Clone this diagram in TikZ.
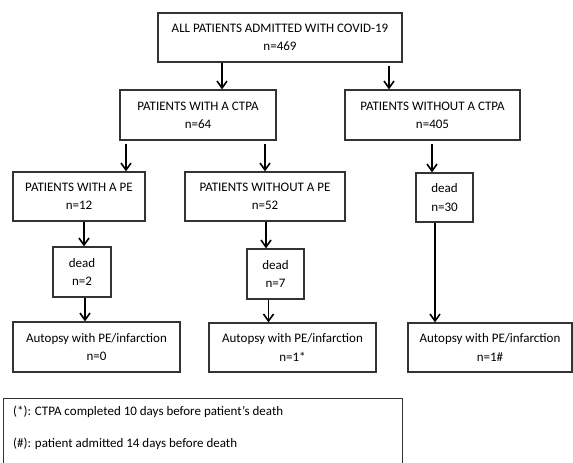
\documentclass[tikz,border=0pt]{standalone}
\usepackage{fontspec}
\setmainfont{Carlito}
\usetikzlibrary{arrows.meta}
\begin{document}
\begin{tikzpicture}[x=1pt,y=-1pt,
  box/.style={draw=black!80,line width=1.2pt,inner sep=0pt,align=center,
    font=\fontsize{13}{18.3}\selectfont},
  arr/.style={line width=1.9pt,-{Straight Barb[length=7pt,width=10pt,line width=1.6pt]}},
  plain/.style={line width=1.9pt},
  note/.style={inner sep=0pt,anchor=west,font=\fontsize{13}{16}\selectfont}]
\useasboundingbox (0,0) rectangle (573,463);
\node[box,minimum width=244pt,minimum height=49pt] (top) at (280,37.5) {ALL PATIENTS ADMITTED WITH COVID-19\\n=469};
\node[box,minimum width=156pt,minimum height=50pt] (ctpa) at (198,115) {PATIENTS WITH A CTPA\\n=64};
\node[box,minimum width=175pt,minimum height=50pt] (noctpa) at (432.5,115) {PATIENTS WITHOUT A CTPA\\n=405};
\node[box,minimum width=132pt,minimum height=49pt] (pe) at (79,196.5) {PATIENTS WITH A PE\\n=12};
\node[box,minimum width=160pt,minimum height=49pt] (nope) at (265,196.5) {PATIENTS WITHOUT A PE\\n=52};
\node[box,minimum width=57pt,minimum height=49pt] (dead30) at (444.5,197.5) {dead\\n=30};
\node[box,minimum width=58pt,minimum height=50pt] (dead2) at (82,272) {dead\\n=2};
\node[box,minimum width=57pt,minimum height=50pt] (dead7) at (275.5,274) {dead\\n=7};
\node[box,minimum width=167pt,minimum height=50pt] (aut1) at (96.5,347) {Autopsy with PE/infarction\\n=0};
\node[box,minimum width=167pt,minimum height=49pt] (aut2) at (292.5,347.5) {Autopsy with PE/infarction\\n=1*};
\node[box,minimum width=164pt,minimum height=49pt] (aut3) at (490,347.5) {Autopsy with PE/infarction\\n=1\#};
\node[box,minimum width=399pt,minimum height=80pt,anchor=north west] (notes) at (3,398) {};
\node[note] (n1) at (13,412) {(*): CTPA completed 10 days before patient’s death};
\node[note] (n2) at (13,444) {(\#): patient admitted 14 days before death};
% connectors
\draw[arr] (top.south -| 222,0) -- (ctpa.north -| 222,0);
\draw[arr,shorten <=3pt] (top.south -| 389,0) -- (noctpa.north -| 389,0);
\draw[arr,shorten <=3pt] (ctpa.south -| 126,0) -- (pe.north -| 126,0);
\draw[arr,shorten <=3pt] (ctpa.south -| 265,0) -- (nope.north -| 265,0);
\draw[arr,shorten <=3pt] (noctpa.south -| 432,0) -- (dead30.north -| 432,0);
\draw[arr] (pe.south -| 84,0) -- (dead2.north -| 84,0);
\draw[arr] (nope.south -| 266,0) -- (dead7.north -| 266,0);
\draw[arr] (dead2.south -| 85,0) -- (aut1.north -| 85,0);
\draw[arr] (dead7.south -| 268.5,0) -- (aut2.north -| 268.5,0);
\draw[arr] (dead30.south -| 435,0) -- (aut3.north -| 435,0);
\end{tikzpicture}
\end{document}
